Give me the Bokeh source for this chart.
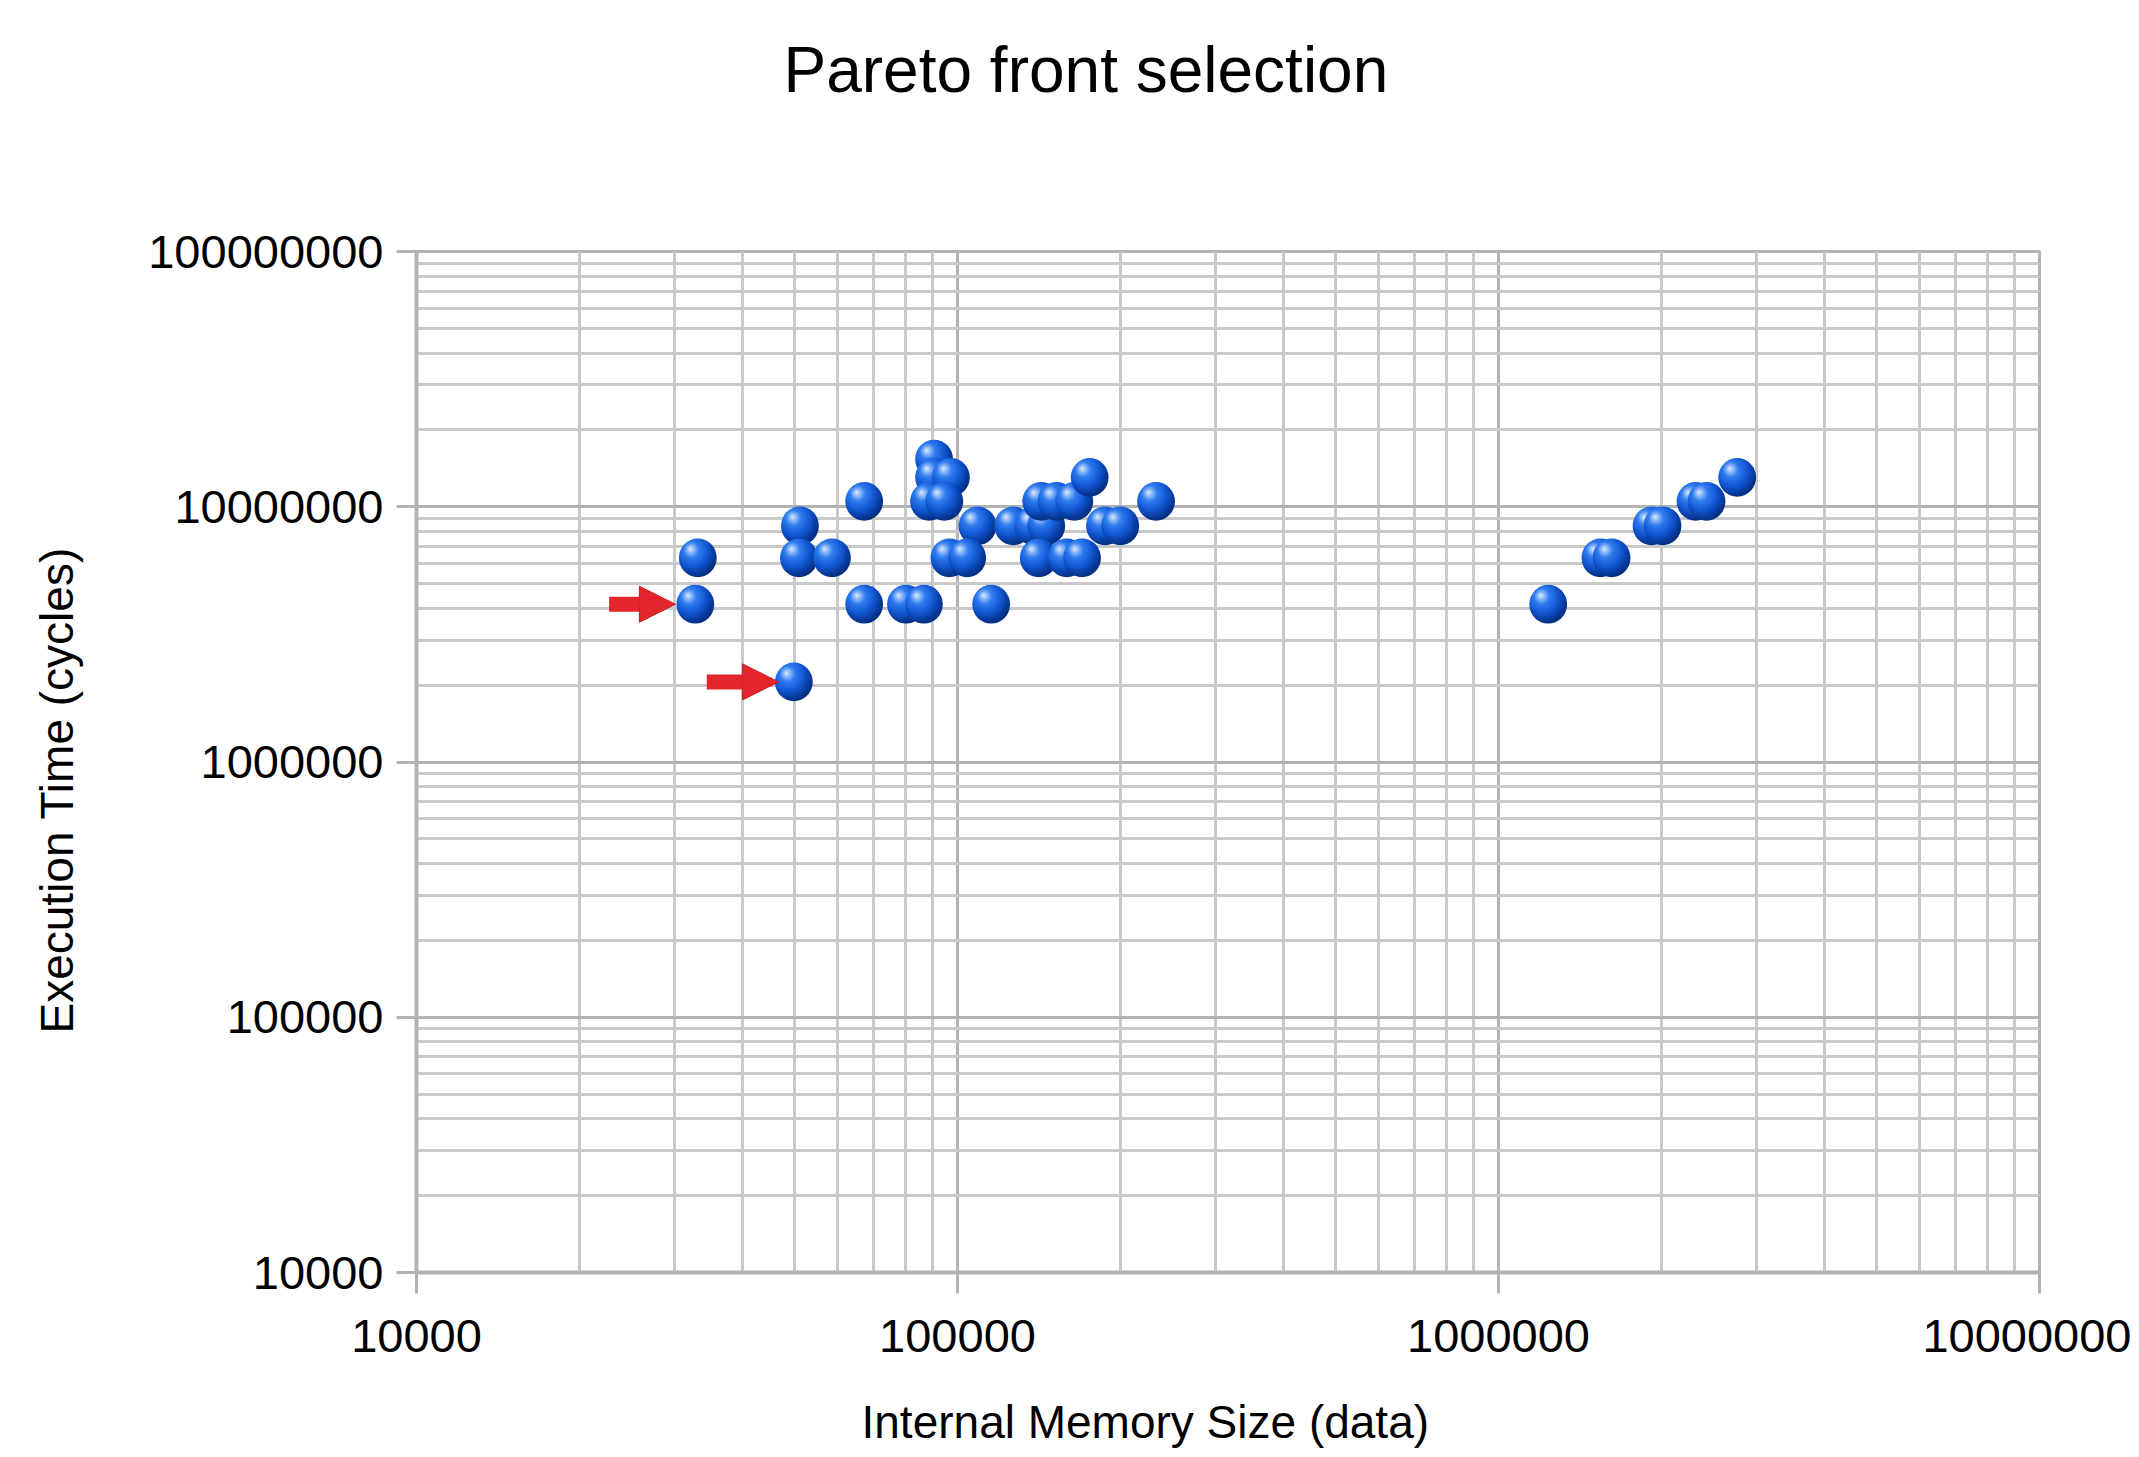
import base64
from bokeh.plotting import figure
from bokeh.models import FixedTicker, Arrow, NormalHead, ColumnDataSource, Label
from bokeh.embed import file_html
from bokeh.resources import INLINE

# ---------------- data ----------------
memory_size = [32760, 33110, 49830, 51140, 50920, 58610, 67220, 67220,
               80310, 86680, 90510, 90510, 97230, 88580, 94540, 108900,
               96610, 104200, 115400, 126800, 138200, 145900, 142800, 152400,
               164400, 175500, 141300, 159200, 169900, 187300, 199900, 232800,
               1235500, 1543000, 1618000, 1918000, 2010000, 2313000, 2424000, 2762000]
exec_cycles = [4.15e6, 6.31e6, 2.06e6, 8.42e6, 6.31e6, 6.31e6, 10.5e6, 4.15e6,
               4.15e6, 4.15e6, 15.38e6, 13.03e6, 13.03e6, 10.5e6, 10.5e6, 8.42e6,
               6.31e6, 6.31e6, 4.15e6, 8.42e6, 8.42e6, 8.42e6, 10.5e6, 10.5e6,
               10.5e6, 13.03e6, 6.31e6, 6.31e6, 6.31e6, 8.42e6, 8.42e6, 10.5e6,
               4.15e6, 6.31e6, 6.31e6, 8.42e6, 8.42e6, 10.5e6, 10.5e6, 13.03e6]

# arrows marking the selected Pareto points
arrow_tail_x = [22700, 34400]
arrow_tip_x = [30100, 46700]
arrow_y = [4.15e6, 2.06e6]

x_major_ticks = [1e4, 1e5, 1e6, 1e7]
x_tick_labels = ["10000", "100000", "1000000", "10000000"]
y_major_ticks = [1e4, 1e5, 1e6, 1e7, 1e8]
y_tick_labels = ["10000", "100000", "1000000", "10000000", "100000000"]
x_minor_ticks = [m * 10 ** k for k in range(4, 7) for m in range(2, 10)]
y_minor_ticks = [m * 10 ** k for k in range(4, 8) for m in range(2, 10)]

TITLE = "Pareto front selection"
X_LABEL = "Internal Memory Size (data)"
Y_LABEL = "Execution Time (cycles)"

FONT = "Liberation Sans"
GRID_MAJOR = "#b3b3b3"
GRID_MINOR = "#c9c9c9"

p = figure(width=2131, height=1449,
           x_axis_type="log", y_axis_type="log",
           x_range=(1e4, 1e7), y_range=(1e4, 1e8),
           output_backend="svg", toolbar_location=None,
           min_border_left=416, min_border_right=92,
           min_border_top=251, min_border_bottom=177)

p.background_fill_color = "white"
p.border_fill_color = "white"
p.outline_line_color = GRID_MAJOR
p.outline_line_width = 3
p.title.text = ""

# axes
xax = p.below[0]
yax = p.left[0]
xax.ticker = FixedTicker(ticks=x_major_ticks, minor_ticks=x_minor_ticks)
yax.ticker = FixedTicker(ticks=y_major_ticks, minor_ticks=y_minor_ticks)
xax.major_label_overrides = {t: l for t, l in zip(x_major_ticks, x_tick_labels)}
yax.major_label_overrides = {t: l for t, l in zip(y_major_ticks, y_tick_labels)}

for ax in (xax, yax):
    ax.axis_line_color = GRID_MAJOR
    ax.axis_line_width = 4
    ax.major_tick_line_color = GRID_MAJOR
    ax.major_tick_line_width = 3
    ax.major_tick_in = 0
    ax.minor_tick_in = 0
    ax.minor_tick_out = 0
    ax.major_label_text_font = FONT
    ax.major_label_text_font_size = "47px"
    ax.major_label_text_color = "#000000"
xax.major_tick_out = 21
xax.major_label_standoff = 26
yax.major_tick_out = 20
yax.major_label_standoff = 13

# grids
for g in (p.xgrid, p.ygrid):
    g.grid_line_color = GRID_MAJOR
    g.grid_line_width = 3
    g.minor_grid_line_color = GRID_MINOR
    g.minor_grid_line_width = 3

# title and axis titles, placed in the side panels (screen units of each panel)
common = dict(x_units="screen", y_units="screen", text_font=FONT,
              text_color="#000000", text_align="left", text_baseline="alphabetic")
p.add_layout(Label(text=TITLE, x=367, y=182, text_font_size="64px", **common), "above")
p.add_layout(Label(text=X_LABEL, x=445, y=-15, text_font_size="46px", **common), "below")
p.add_layout(Label(text=Y_LABEL, x=-37, y=239, angle=90, angle_units="deg",
                   text_font_size="46px", **common), "left")

# sphere markers
sphere_svg = """<svg xmlns="http://www.w3.org/2000/svg" width="64" height="64" viewBox="0 0 64 64">
<defs>
<radialGradient id="g" cx="0.40" cy="0.36" r="0.68" fx="0.30" fy="0.27">
<stop offset="0" stop-color="#dde9ff"/>
<stop offset="0.12" stop-color="#93bcf8"/>
<stop offset="0.30" stop-color="#2f7cf0"/>
<stop offset="0.60" stop-color="#1256d2"/>
<stop offset="0.85" stop-color="#063795"/>
<stop offset="1" stop-color="#042b76"/>
</radialGradient>
</defs>
<ellipse cx="32" cy="32" rx="31" ry="31" fill="url(#g)"/>
</svg>"""
sphere_url = "data:image/svg+xml;base64," + base64.b64encode(sphere_svg.encode()).decode()

src = ColumnDataSource(dict(x=memory_size, y=exec_cycles,
                            url=[sphere_url] * len(memory_size)))
p.image_url(url="url", x="x", y="y", w=39, h=40, w_units="screen", h_units="screen",
            anchor="center", source=src)

# red arrows pointing at the selected points
for xs, xe, yy in zip(arrow_tail_x, arrow_tip_x, arrow_y):
    p.add_layout(Arrow(end=NormalHead(size=36, fill_color="#e3262b", line_color="#c41a20",
                                      line_width=1),
                       x_start=xs, y_start=yy, x_end=xe, y_end=yy,
                       line_color="#e3262b", line_width=15))

open("out.html", "w").write(file_html(p, INLINE))
